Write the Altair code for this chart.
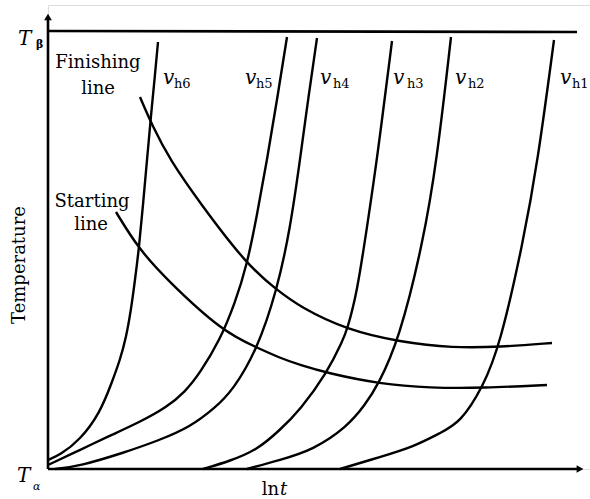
import altair as alt
import pandas as pd

# ---- heating curves (x: ln t, y: temperature, arbitrary units) ----
vh6_x = [0, 12, 32, 52, 64, 72, 78, 83, 87, 91, 95, 99, 103, 107, 110]
vh6_y = [9, 14, 29, 56, 87, 109, 131, 159, 189, 221, 264, 309, 354, 394, 427]
vh5_x = [0, 32, 59, 92, 119, 137, 152, 172, 187, 199, 209, 219, 229, 239]
vh5_y = [4, 19, 32, 47, 62, 77, 96, 129, 166, 204, 254, 309, 369, 432]
vh4_x = [7, 32, 75, 112, 142, 167, 185, 209, 229, 242, 252, 260, 269]
vh4_y = [0, 3, 16, 29, 42, 61, 79, 119, 179, 239, 309, 369, 431]
vh3_x = [155, 182, 209, 232, 252, 279, 295, 299, 309, 319, 329, 344]
vh3_y = [0, 8, 19, 39, 59, 96, 129, 139, 176, 242, 309, 428]
vh2_x = [199, 232, 265, 299, 317, 330, 351, 375, 389, 403]
vh2_y = [0, 9, 19, 42, 64, 84, 129, 226, 309, 432]
vh1_x = [292, 332, 365, 392, 412, 435, 452, 475, 490, 506]
vh1_y = [0, 12, 22, 36, 46, 82, 124, 226, 309, 429]

# ---- transformation lines ----
finish_x = [92, 104, 122, 152, 199, 229, 252, 299, 352, 405, 452, 504]
finish_y = [372, 344, 309, 266, 204, 179, 162, 139, 127, 121, 122, 126]
start_x = [68, 90, 119, 175, 210, 232, 252, 279, 332, 382, 435, 499]
start_y = [257, 221, 189, 137, 121, 111, 104, 96, 85, 81, 81, 84]

# ---- reference temperatures / axes ----
t_beta = 438
x_end = 532
y_end = 452

curve_names = ["vh6", "vh5", "vh4", "vh3", "vh2", "vh1", "finish", "start"]
curve_xs = [vh6_x, vh5_x, vh4_x, vh3_x, vh2_x, vh1_x, finish_x, start_x]
curve_ys = [vh6_y, vh5_y, vh4_y, vh3_y, vh2_y, vh1_y, finish_y, start_y]

rows = []
for name, xs_, ys_ in zip(curve_names, curve_xs, curve_ys):
    for i, (a, b) in enumerate(zip(xs_, ys_)):
        rows.append({"curve": name, "order": i, "x": a, "y": b})
curves = pd.DataFrame(rows)

# labels
v_labels = ["h6", "h5", "h4", "h3", "h2", "h1"]
v_x = [115, 197, 272, 345, 407, 512]
sub_x = [126, 208, 285, 359, 420, 524]
v_y = 385
sub_y = 381

FONT = "DejaVu Serif"
W, H = 542, 464
xs = alt.Scale(domain=[0, W], nice=False, zero=False)
ys = alt.Scale(domain=[0, H], nice=False, zero=False)

base_curves = alt.Chart(curves).mark_line(
    color="black", strokeWidth=2.4, interpolate="basis"
).encode(
    x=alt.X("x:Q", scale=xs, axis=None),
    y=alt.Y("y:Q", scale=ys, axis=None),
    detail="curve:N",
    order="order:Q",
)

rules_df = pd.DataFrame({
    "x": [0, 0, 0], "x2": [x_end, 0, 529],
    "y": [0, 0, t_beta], "y2": [0, y_end, t_beta - 1],
})
rules = alt.Chart(rules_df).mark_rule(color="black", strokeWidth=2.6).encode(
    x=alt.X("x:Q", scale=xs, axis=None), x2="x2:Q",
    y=alt.Y("y:Q", scale=ys, axis=None), y2="y2:Q",
)

arrow_up = alt.Chart(pd.DataFrame({"x": [0], "y": [y_end]})).mark_point(
    shape="triangle-up", filled=True, size=60, color="black", opacity=1
).encode(x=alt.X("x:Q", scale=xs, axis=None), y=alt.Y("y:Q", scale=ys, axis=None))
arrow_right = alt.Chart(pd.DataFrame({"x": [x_end], "y": [0]})).mark_point(
    shape="triangle-right", filled=True, size=60, color="black", opacity=1
).encode(x=alt.X("x:Q", scale=xs, axis=None), y=alt.Y("y:Q", scale=ys, axis=None))


def text_layer(texts, xv, yv, size, align="left", style="normal", weight="normal", angle=0):
    df = pd.DataFrame({"t": texts, "x": xv, "y": yv})
    return alt.Chart(df).mark_text(
        font=FONT, fontSize=size, align=align, baseline="alphabetic",
        fontStyle=style, fontWeight=weight, angle=angle, color="black",
    ).encode(
        x=alt.X("x:Q", scale=xs, axis=None),
        y=alt.Y("y:Q", scale=ys, axis=None),
        text="t:N",
    )


lab_regular = text_layer(["Finishing", "line", "Starting", "line"],
                         [50, 50, 44, 43], [401, 375, 262, 239], 18, align="center")
lab_temp = text_layer(["Temperature"], [-23], [204], 18, align="center", angle=270)
lab_ln = text_layer(["ln"], [231], [-26], 18, align="right")
lab_t = text_layer(["t"], [232], [-26], 18, style="italic")
lab_T = text_layer(["T", "T"], [-30, -31], [424, -13], 20, style="italic")
lab_beta = text_layer(["β"], [-12], [421], 11, weight="bold")
lab_alpha = text_layer(["α"], [-15], [-21], 11, style="italic")
lab_v = text_layer(["v"] * 6, v_x, [v_y] * 6, 20, style="italic")
lab_sub = text_layer(v_labels, sub_x, [sub_y] * 6, 13)

chart = alt.layer(
    rules, arrow_up, arrow_right, base_curves,
    lab_regular, lab_temp, lab_ln, lab_t, lab_T, lab_beta, lab_alpha, lab_v, lab_sub,
).properties(
    width=W, height=H,
    padding={"left": 48, "top": 5, "right": 0, "bottom": 30},
    autosize=alt.AutoSizeParams(type="none"),
).configure_view(stroke=None).configure(background="white")

chart.save("out.html", embed_options={"renderer": "svg", "actions": False})
